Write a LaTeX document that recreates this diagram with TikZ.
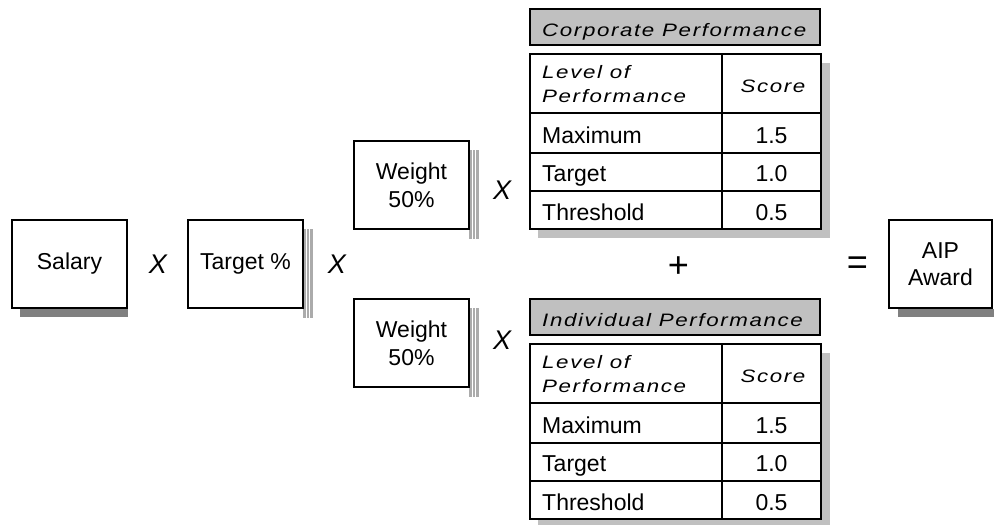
\documentclass[tikz,border=0pt]{standalone}
\usepackage{fontspec}
\setmainfont{Liberation Sans}
\newfontfamily\spacedit[FakeStretch=1.24,LetterSpace=9]{Liberation Sans Italic}
\usetikzlibrary{calc}
\definecolor{shadowdark}{HTML}{808080}
\definecolor{shadowlight}{HTML}{C0C0C0}
\definecolor{stripegray}{HTML}{ABABAB}
\definecolor{hdrgray}{HTML}{C0C0C0}
\tikzset{
  bigbox/.style={draw, fill=white, line width=2.4pt, inner sep=0pt, align=center,
    minimum height=88pt, font=\fontsize{23}{27}\selectfont},
  thinbox/.style={draw, fill=white, line width=1.1pt, inner sep=0pt, align=center,
    minimum width=115pt, minimum height=88pt, font=\fontsize{23}{28}\selectfont},
  opsym/.style={inner sep=0pt, font=\fontsize{27}{30}\selectfont\itshape},
  bigop/.style={inner sep=0pt, font=\fontsize{36}{40}\selectfont\itshape},
  hdrbox/.style={draw, fill=hdrgray, line width=1.1pt, inner sep=0pt,
    minimum width=290pt, minimum height=36pt},
  tblbox/.style={draw, fill=white, line width=1.5pt, inner sep=0pt,
    minimum width=291pt, minimum height=175pt},
  tline/.style={line width=1.2pt},
  ittxt/.style={inner sep=0pt, align=left, font=\fontsize{18}{24}\spacedit},
  celltxt/.style={inner sep=0pt, text height=16pt, text depth=0pt,
    font=\fontsize{23}{27}\selectfont},
}
\newcommand\PerfTable[3]{%
\begin{scope}[shift={(0,#1)}]
  \fill[shadowlight] (538,63) rectangle (830,238);
  \node[hdrbox] (#3h) at (675,27) {};
  \node[ittxt, anchor=west, text height=12.8pt, text depth=0pt] (#3ht) at (542,30) {#2};
  \node[tblbox] (#3t) at (675.5,141.5) {};
  \draw[tline] (722,54) -- (722,229);
  \draw[tline] (530,113) -- (821,113);
  \draw[tline] (530,153) -- (821,153);
  \draw[tline] (530,191) -- (821,191);
  \node[ittxt, anchor=west] (#3l) at (542,84) {Level of\\Performance};
  \node[ittxt, text height=12.8pt, text depth=0pt] (#3s) at (773,86) {Score};
  \node[celltxt, anchor=west] (#3r1) at (542,135.5) {Maximum};
  \node[celltxt] (#3v1) at (771.5,135.5) {1.5};
  \node[celltxt, anchor=west] (#3r2) at (542,173.7) {Target};
  \node[celltxt] (#3v2) at (771.5,173.7) {1.0};
  \node[celltxt, anchor=west] (#3r3) at (542,212) {Threshold};
  \node[celltxt] (#3v3) at (771.5,212) {0.5};
\end{scope}}
\newcommand\StripeShadow[2]{% x-left, y-top
  \fill[stripegray] (#1,#2) rectangle ++(10,89);
  \draw[white, line width=0.9pt] ($(#1,#2)+(3.2,0)$) -- ++(0,89);
  \draw[white, line width=0.9pt] ($(#1,#2)+(6.8,0)$) -- ++(0,89);
}
\begin{document}
\begin{tikzpicture}[x=1pt,y=-1pt]
\useasboundingbox (0,0) rectangle (994,525);
% Salary
\fill[shadowdark] (20,309) rectangle (128,317);
\node[bigbox, minimum width=115pt] (salary) at (69.5,264) {Salary};
\node[opsym] (x1) at (158,264) {X};
% Target %
\StripeShadow{303}{229}
\node[thinbox] (target) at (245.5,264) {Target \%};
\node[opsym] (x2) at (337,264) {X};
% Weights
\StripeShadow{469}{150}
\node[thinbox] (w1) at (411.5,185) {Weight\\50\%};
\node[opsym] (x3) at (502,190) {X};
\StripeShadow{469}{308}
\node[thinbox] (w2) at (411.5,343) {Weight\\50\%};
\node[opsym] (x4) at (502,340) {X};
% Tables
\PerfTable{0}{Corporate Performance}{corp}
\PerfTable{290}{Individual Performance}{ind}
\node[bigop] (plus) at (678,267) {+};
\node[bigop] (eq) at (857,266) {=};
% AIP Award
\fill[shadowdark] (898,309) rectangle (994,317);
\node[bigbox, minimum width=103pt] (aip) at (940.5,264) {AIP\\Award};
\end{tikzpicture}
\end{document}
